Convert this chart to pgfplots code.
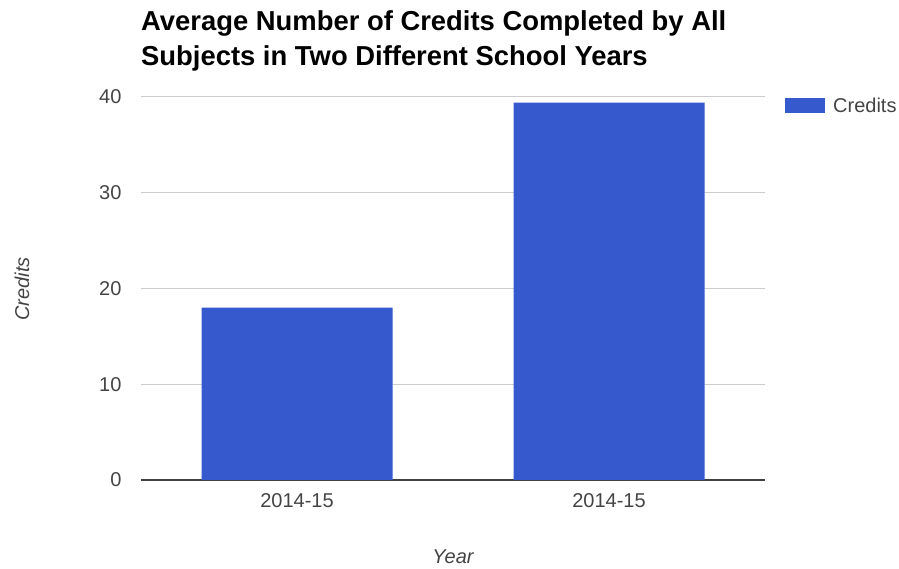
\documentclass[border=0pt]{standalone}
\usepackage{pgfplots}
\pgfplotsset{compat=1.18}
\usepackage{fontspec}
\setmainfont{Liberation Sans}
\definecolor{barblue}{RGB}{54,89,206}
\definecolor{gridgray}{RGB}{204,204,204}
\definecolor{ticktext}{RGB}{68,68,68}
\begin{document}
\begin{tikzpicture}
\useasboundingbox (-141pt,-89pt) rectangle (758pt,480pt);
\begin{axis}[
  at={(0pt,0pt)}, anchor=south west,
  scale only axis,
  width=624pt, height=383pt,
  xmin=-0.5, xmax=1.5,
  ymin=0, ymax=40,
  xtick={0,1}, xticklabels={2014-15,2014-15},
  ytick={0,10,20,30,40},
  axis x line*=bottom,
  axis y line*=left,
  y axis line style={draw=none},
  x axis line style={draw=black!75, line width=1.2pt, -},
  ymajorgrids,
  grid style={draw=gridgray, line width=1pt},
  major tick length=0pt,
  tick label style={font=\fontsize{20}{24}\selectfont, text=ticktext},
  /pgf/number format/assume math mode=true,
  xticklabel style={yshift=-10pt},
  yticklabel style={xshift=-16pt},
  legend style={at={(641pt,374pt)}, anchor=west, draw=none, fill=none,
    font=\fontsize{20}{24}\selectfont, text=ticktext,
    legend cell align=left, column sep=6pt},
  legend image code/.code={\fill[barblue] (0pt,-7.5pt) rectangle (40pt,7.5pt);},
  clip=false,
]
\addplot[ybar, bar width=191pt, fill=barblue, draw=none] coordinates {(0,18) (1,39.4)};
\addlegendentry{Credits}
\end{axis}
\node[rotate=90, font=\fontsize{20}{24}\selectfont\itshape, text=ticktext] at (-119pt,191pt) {Credits};
\node[font=\fontsize{20}{24}\selectfont\itshape, text=ticktext] at (312pt,-77pt) {Year};
\node[anchor=north west, align=left, inner sep=0pt, font=\fontsize{27.4}{35}\selectfont\bfseries] at (0pt,470pt) {Average Number of Credits Completed by All\\Subjects in Two Different School Years};
\end{tikzpicture}
\end{document}
